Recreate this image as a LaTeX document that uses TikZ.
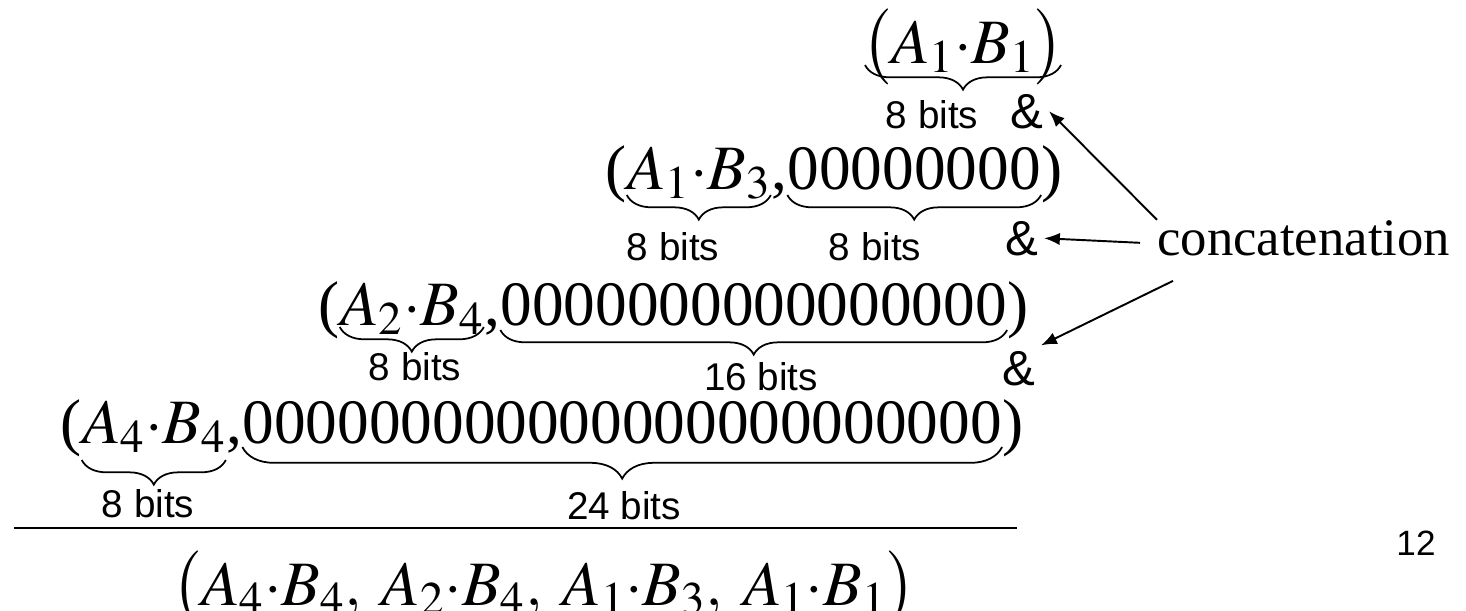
\documentclass[tikz,border=0pt]{standalone}
\usepackage{mathptmx}
\usepackage{fontspec}
\setmainfont{Liberation Serif}
\newfontfamily\arialfont{Liberation Sans}
\usetikzlibrary{arrows.meta, positioning, decorations.pathreplacing}

\tikzset{
  term/.style={inner sep=0pt, font=\fontsize{36}{45}\selectfont},
  bits/.style={inner sep=0pt, font=\arialfont\fontsize{22}{26}\selectfont},
  amp/.style={inner sep=3pt, font=\arialfont\fontsize{28}{32}\selectfont},
  bitbrace/.style={decorate, decoration={brace, mirror, amplitude=#1}, line width=1pt},
  bitbrace/.default=14pt,
  catarrow/.style={-{Latex[length=9pt,width=7pt]}, line width=1.1pt}
}

\begin{document}
\begin{tikzpicture}[x=0.02cm, y=-0.02cm]
\useasboundingbox (0,0) rectangle (1466,610);
\fill[white] (0,0) rectangle (1466,610);

\node[term, anchor=base west] (r1) at (862,63) {$\bigl(A_1{\cdot}B_1\bigr)$};

\node[term, anchor=base west] (r2open) at (605,189) {(};
\node[term, base right=0pt of r2open] (r2ab) {$A_1{\cdot}B_3$};
\node[term, base right=0pt of r2ab] (r2comma) {,};
\node[term, base right=0pt of r2comma] (r2zero) {00000000};
\node[term, base right=0pt of r2zero] (r2close) {)};

\node[term, anchor=base west] (r3open) at (318,325) {(};
\node[term, base right=0pt of r3open] (r3ab) {$A_2{\cdot}B_4$};
\node[term, base right=0pt of r3ab] (r3comma) {,};
\node[term, base right=0pt of r3comma] (r3zero) {0000000000000000};
\node[term, base right=0pt of r3zero] (r3close) {)};

\node[term, anchor=base west] (r4open) at (60,443) {(};
\node[term, base right=0pt of r4open] (r4ab) {$A_4{\cdot}B_4$};
\node[term, base right=0pt of r4ab] (r4comma) {,};
\node[term, base right=0pt of r4comma] (r4zero) {000000000000000000000000};
\node[term, base right=0pt of r4zero] (r4close) {)};

\draw[bitbrace] ([shift={(3,2)}]r1.base west) -- ([shift={(-3,2)}]r1.base east);
\draw[bitbrace] ([shift={(0,6)}]r2ab.base west) -- ([shift={(0,6)}]r2ab.base east);
\draw[bitbrace] ([shift={(0,6)}]r2zero.base west) -- ([shift={(0,6)}]r2zero.base east);
\draw[bitbrace] ([shift={(0,2)}]r3ab.base west) -- ([shift={(0,2)}]r3ab.base east);
\draw[bitbrace] ([shift={(0,5)}]r3zero.base west) -- ([shift={(0,5)}]r3zero.base east);
\draw[bitbrace] ([shift={(0,17)}]r4ab.base west) -- ([shift={(0,17)}]r4ab.base east);
\draw[bitbrace=18pt] ([shift={(0,4)}]r4zero.base west) -- ([shift={(0,4)}]r4zero.base east);

\node[bits, anchor=base] (l1) at (932,128) {8 bits};
\node[bits, anchor=base] (l2a) at (673,260) {8 bits};
\node[bits, anchor=base] (l2b) at (875,260) {8 bits};
\node[bits, anchor=base] (l3a) at (415,380) {8 bits};
\node[bits, anchor=base] (l3b) at (761,390) {16 bits};
\node[bits, anchor=base] (l4a) at (148,517) {8 bits};
\node[bits, anchor=base] (l4b) at (624,519) {24 bits};

\node[amp, anchor=base] (amp1) at (1027,128) {\&};
\node[amp, anchor=base] (amp2) at (1022,255) {\&};
\node[amp, anchor=base] (amp3) at (1019,385) {\&};

\node[inner sep=0pt, font=\fontsize{30}{36}\selectfont, anchor=base west] (conc) at (1157,255) {concatenation};

\draw[catarrow] (conc.north west) -- (amp1.east);
\draw[catarrow] ([shift={(-17,5)}]conc.west) -- (amp2.east);
\draw[catarrow] ([shift={(16,25)}]conc.south west) -- (amp3.north east);

\draw[line width=1.4pt] (14,528) -- (1017,528);

\node[term, anchor=base west] (res) at (172,605) {$\bigl(A_4{\cdot}B_4,\hspace{0.2em}A_2{\cdot}B_4,\hspace{0.2em}A_1{\cdot}B_3,\hspace{0.2em}A_1{\cdot}B_1\bigr)$};

\node[bits, font=\arialfont\fontsize{20}{24}\selectfont, anchor=base] (page) at (1416,555) {12};
\end{tikzpicture}
\end{document}
